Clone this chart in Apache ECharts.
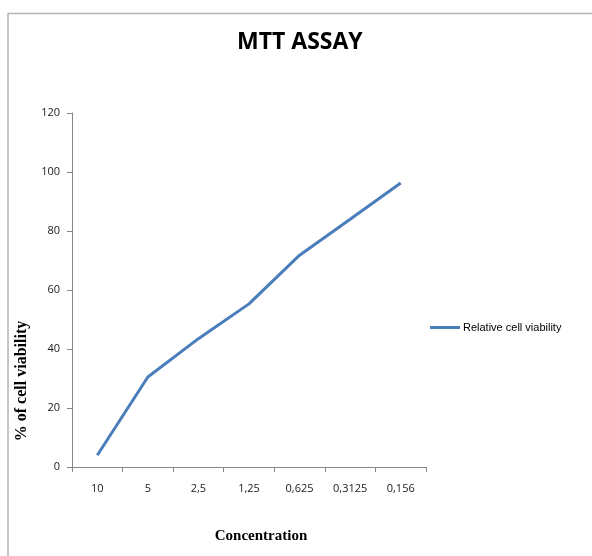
<!DOCTYPE html>
<html>
<head>
<meta charset="utf-8">
<script src="https://cdn.jsdelivr.net/npm/echarts@6/dist/echarts.min.js"></script>
<style>html,body{margin:0;padding:0;background:#fff}#c{width:592px;height:556px}</style>
</head>
<body>
<div id="c"></div>
<script>
const categories = ['10', '5', '2,5', '1,25', '0,625', '0,3125', '0,156'];
const viability = [4.0, 30.5, 43.5, 55.3, 71.8, 84.0, 96.3];
const yTicks = { min: 0, max: 120, interval: 20 };

const chart = echarts.init(document.getElementById('c'), null, { renderer: 'canvas' });
chart.setOption({
  animation: false,
  backgroundColor: '#fff',
  title: {
    text: 'MTT ASSAY',
    left: 237, top: 31, padding: 0,
    textStyle: { fontFamily: 'Open Sans', fontWeight: 'bold', fontSize: 23, color: '#000' }
  },
  graphic: [
    { type: 'polyline', shape: { points: [[8, 556], [8, 13.5], [592, 13.5]] },
      style: { stroke: '#b4b4b4', lineWidth: 1.5, fill: null } }
  ],
  legend: {
    data: ['Relative cell viability'],
    left: 425, top: 317, itemWidth: 30, itemHeight: 3, itemGap: 4,
    icon: 'rect',
    textStyle: { fontFamily: 'Liberation Sans', fontSize: 11, color: '#000', padding: [0, 0, 0, -2] }
  },
  grid: { left: 72, right: 166, top: 113, bottom: 89, containLabel: false },
  xAxis: {
    type: 'category', data: categories, boundaryGap: true,
    name: 'Concentration', nameLocation: 'middle', nameGap: 62,
    nameTextStyle: { fontFamily: 'Liberation Serif', fontWeight: 'bold', fontSize: 15, color: '#000', padding: [0, 0, 0, 24] },
    axisLine: { lineStyle: { color: '#868686', width: 1 } },
    axisTick: { show: true, alignWithLabel: false, length: 5, lineStyle: { color: '#868686' } },
    axisLabel: { margin: 16, fontFamily: 'Open Sans', fontSize: 11, color: '#1a1a1a' }
  },
  yAxis: {
    type: 'value', min: yTicks.min, max: yTicks.max, interval: yTicks.interval,
    name: '% of cell viability', nameLocation: 'middle', nameGap: 30, nameRotate: 90,
    nameTextStyle: { fontFamily: 'Liberation Serif', fontWeight: 'bold', fontSize: 16, color: '#000', padding: [0, 182, 10, 0] },
    axisLine: { show: true, lineStyle: { color: '#868686', width: 1 } },
    axisTick: { show: true, length: 5, lineStyle: { color: '#868686' } },
    splitLine: { show: false },
    axisLabel: { margin: 12, fontFamily: 'Open Sans', fontSize: 11, color: '#1a1a1a' }
  },
  series: [{
    name: 'Relative cell viability', type: 'line', data: viability,
    symbol: 'none', smooth: false,
    lineStyle: { color: '#4a7ebb', width: 3 },
    itemStyle: { color: '#4a7ebb' }
  }]
});
</script>
</body>
</html>
